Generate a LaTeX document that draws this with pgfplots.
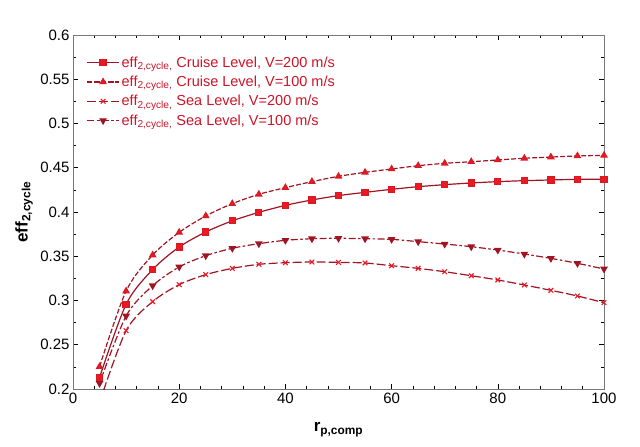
\documentclass[border=0pt]{standalone}
\usepackage{fontspec}
\setmainfont{Liberation Sans}
\usepackage{pgfplots}
\pgfplotsset{compat=1.18}
\definecolor{lin}{RGB}{160,20,35}
\definecolor{mk}{RGB}{235,25,35}
\definecolor{legtxt}{RGB}{205,20,40}
\definecolor{axgray}{RGB}{120,120,120}
\begin{document}
\begin{tikzpicture}
\useasboundingbox (-73pt,-58pt) rectangle (567pt,389pt);
\begin{axis}[
  at={(0pt,0pt)}, anchor=south west,
  width=531pt, height=354pt, scale only axis,
  xmin=0, xmax=100, ymin=0.2, ymax=0.6,
  xtick={0,20,40,60,80,100},
  ytick={0.2,0.25,0.3,0.35,0.4,0.45,0.5,0.55,0.6},
  yticklabels={0.2,0.25,0.3,0.35,0.4,0.45,0.5,0.55,0.6},
  minor x tick num=4, minor y tick num=1,
  tick align=inside,
  major tick length=5pt, minor tick length=3pt,
  axis line style={axgray, line width=0.9pt},
  every tick/.style={black, line width=0.6pt},
  tick label style={font=\fontsize{15}{18}\selectfont},
  /pgf/number format/assume math mode=true,
  xlabel={\textbf{r\textsubscript{p,comp}}},
  ylabel={\textbf{eff\textsubscript{2,cycle}}},
  xlabel style={font=\fontsize{17}{20}\selectfont, at={(axis description cs:0.5,-0.115)}, anchor=center},
  ylabel style={font=\fontsize{17}{20}\selectfont, at={(axis description cs:-0.092,0.5)}, anchor=center, rotate=0},
  legend style={at={(axis description cs:0.025,0.945)}, anchor=north west, draw=none, fill=none,
    font=\fontsize{14.5}{16}\selectfont, text=legtxt, row sep=3.3pt, inner sep=0pt},
  legend cell align=left,
  legend image code/.code={
    \draw[mark repeat=2,mark phase=2,#1] plot coordinates {(0pt,0pt) (16pt,0pt) (32pt,0pt)};
  },
  every axis plot/.append style={line width=1.2pt, color=lin, mark options={solid, fill=mk, draw=mk!80!lin}},
]
\addplot[color=lin, solid, smooth, mark=square*, mark size=3pt] coordinates {
(5,0.213) (10,0.2957) (15,0.335) (20,0.3604) (25,0.3774) (30,0.390) (35,0.3996) (40,0.4075)
(45,0.4136) (50,0.4185) (55,0.4222) (60,0.4256) (65,0.4286) (70,0.4309) (75,0.4328)
(80,0.4343) (85,0.4354) (90,0.4362) (95,0.4369) (100,0.4370)};
\addlegendentry{eff\textsubscript{2,cycle,} Cruise Level, V=200 m/s}
\addplot[color=lin, smooth, dash pattern=on 5pt off 2pt, mark=triangle*, mark size=3.3pt] coordinates {
(5,0.2252) (10,0.3107) (15,0.3514) (20,0.377) (25,0.3955) (30,0.4094) (35,0.420) (40,0.4275)
(45,0.4343) (50,0.4403) (55,0.4448) (60,0.4486) (65,0.4523) (70,0.455) (75,0.4568)
(80,0.4588) (85,0.4607) (90,0.4621) (95,0.4633) (100,0.464)};
\addlegendentry{eff\textsubscript{2,cycle,} Cruise Level, V=100 m/s}
\addplot[color=lin, smooth, dash pattern=on 9pt off 3pt, mark=x, mark size=3.3pt, mark options={solid, draw=mk, line width=1.1pt}] coordinates {
(5,0.185) (10,0.2659) (15,0.2987) (20,0.3179) (25,0.3292) (30,0.3363) (35,0.3409) (40,0.3427)
(45,0.3435) (50,0.3431) (55,0.3424) (60,0.3393) (65,0.3363) (70,0.3325) (75,0.328)
(80,0.3232) (85,0.3175) (90,0.3115) (95,0.3051) (100,0.2975)};
\addlegendentry{eff\textsubscript{2,cycle,} Sea Level, V=200 m/s}
\addplot[color=lin, smooth, dash pattern=on 7pt off 2.5pt on 2.5pt off 2.5pt, mark=triangle*, mark size=3.3pt, mark options={solid, rotate=180}] coordinates {
(5,0.2064) (10,0.2825) (15,0.3167) (20,0.3379) (25,0.3506) (30,0.359) (35,0.3642) (40,0.368)
(45,0.3698) (50,0.3703) (55,0.3698) (60,0.3691) (65,0.3665) (70,0.3638) (75,0.3608)
(80,0.357) (85,0.3525) (90,0.3476) (95,0.342) (100,0.3356)};
\addlegendentry{eff\textsubscript{2,cycle,} Sea Level, V=100 m/s}
\end{axis}
\end{tikzpicture}
\end{document}
